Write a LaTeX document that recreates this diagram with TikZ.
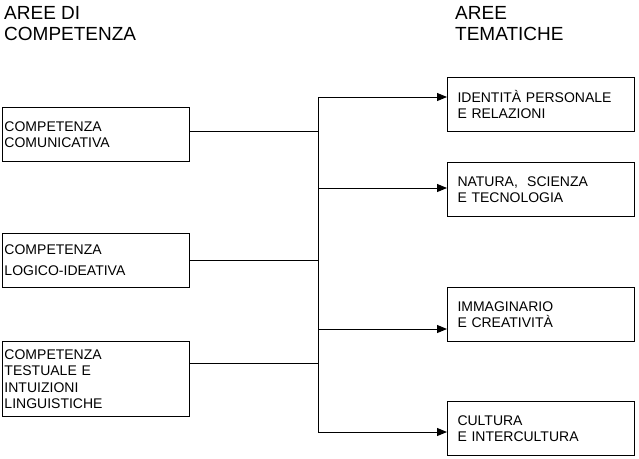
\documentclass[tikz,border=0pt]{standalone}
\usepackage{fontspec}
\setmainfont{Liberation Sans}
\usepackage{tikz}
\usetikzlibrary{arrows.meta}

\tikzset{
  area/.style={draw, line width=1pt, anchor=north west, align=left,
    minimum height=54pt, inner ysep=0pt,
    font=\fontsize{14}{16.5}\selectfont},
  leftarea/.style={area, text width=183pt, inner xsep=2pt},
  rightarea/.style={area, text width=167pt, inner xsep=10pt},
  titolo/.style={anchor=north west, align=left, inner sep=0pt,
    font=\fontsize{19}{21}\selectfont},
  freccia/.style={line width=1pt, -{Triangle[length=10pt,width=8pt]}}
}

\begin{document}
\begin{tikzpicture}[x=1pt,y=-1pt]
  \useasboundingbox (0,0) rectangle (639,458);

  % Titles
  \node[titolo] (titsx) at (4,6) {AREE DI\\COMPETENZA};
  \node[titolo] (titdx) at (455,6) {AREE\\TEMATICHE};

  % Areas of competence
  \node[leftarea] (comunicativa) at (2,107) {COMPETENZA\\COMUNICATIVA};
  \node[leftarea] (logico) at (2,233) {COMPETENZA\\[4.5pt]LOGICO-IDEATIVA};
  \node[leftarea, minimum height=75pt] (testuale) at (2,341)
    {COMPETENZA\\TESTUALE E\\INTUIZIONI\\LINGUISTICHE};

  % Thematic areas
  \node[rightarea] (identita) at (447,77) {IDENTITÀ PERSONALE\\E RELAZIONI};
  \node[rightarea] (natura) at (447,162) {NATURA,\ \ SCIENZA\\E TECNOLOGIA};
  \node[rightarea] (immaginario) at (447,287) {IMMAGINARIO\\E CREATIVITÀ};
  \node[rightarea] (cultura) at (447,401) {CULTURA\\E INTERCULTURA};

  % Trunk
  \coordinate (t1) at (318,97);
  \coordinate (t2) at (318,188);
  \coordinate (t3) at (318,329);
  \coordinate (t4) at (318,432);
  \draw[line width=1pt] (t1) -- (t4);

  % Left connectors
  \draw[line width=1pt] ([yshift=3pt]comunicativa.east) -- ([yshift=3pt]comunicativa.east -| t1);
  \draw[line width=1pt] (logico.east) -- (logico.east -| t1);
  \draw[line width=1pt] ([yshift=15.5pt]testuale.east) -- ([yshift=15.5pt]testuale.east -| t1);

  % Arrows
  \draw[freccia] (t1) -- (t1 -| identita.west);
  \draw[freccia] (t2) -- (t2 -| natura.west);
  \draw[freccia] (t3) -- (t3 -| immaginario.west);
  \draw[freccia] (t4) -- (t4 -| cultura.west);
\end{tikzpicture}
\end{document}
